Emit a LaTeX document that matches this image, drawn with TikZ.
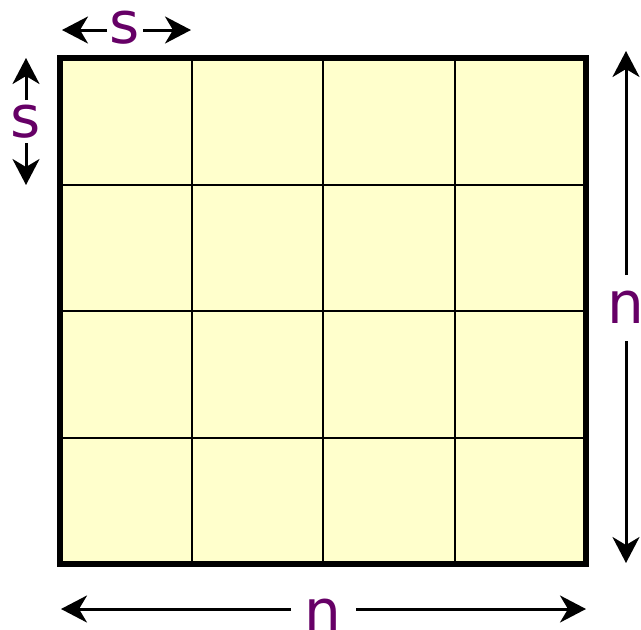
\documentclass[tikz,border=0pt]{standalone}
\usepackage{fontspec}
\setmainfont{DejaVu Sans}
\usetikzlibrary{arrows.meta}
\definecolor{cellfill}{HTML}{FFFFCC}
\definecolor{lblpurple}{HTML}{660066}
\begin{document}
\begin{tikzpicture}[x=1pt,y=-1pt,
  dim/.style={line width=3pt,-{Stealth[length=26pt,width=27pt,inset=8pt]}},
  lbl/.style={text=lblpurple,inner sep=0pt,anchor=base,font=\fontsize{58}{58}\selectfont}]
\useasboundingbox (0,0) rectangle (641,630);
% grid
\fill[cellfill] (60,58) rectangle (586,564);
\foreach \x in {191.5,323,454.5} \draw[line width=2pt] (\x,58) -- (\x,564);
\foreach \y in {184.5,311,437.5} \draw[line width=2pt] (60,\y) -- (586,\y);
\draw[line width=5.5pt] (60,58) rectangle (586,564);
% top s
\node[lbl] (stop) at (125,43) {s};
\coordinate (stopL) at (62,30);
\coordinate (stopR) at (191,30);
\draw[dim] (107,30) -- (stopL);
\draw[dim] (143,30) -- (stopR);
% left s
\node[lbl] (sleft) at (25.5,137) {s};
\coordinate (sleftT) at (26,58);
\coordinate (sleftB) at (26,185);
\draw[dim] (26,100) -- (sleftT);
\draw[dim] (26,143) -- (sleftB);
% right n
\node[lbl] (nright) at (625.5,323) {n};
\coordinate (nrightT) at (626,51);
\coordinate (nrightB) at (626,563);
\draw[dim] (626,275) -- (nrightT);
\draw[dim] (626,341) -- (nrightB);
% bottom n
\node[lbl] (nbot) at (323,631) {n};
\coordinate (nbotL) at (61,609);
\coordinate (nbotR) at (586,609);
\draw[dim] (291,609) -- (nbotL);
\draw[dim] (356,609) -- (nbotR);
\end{tikzpicture}
\end{document}
